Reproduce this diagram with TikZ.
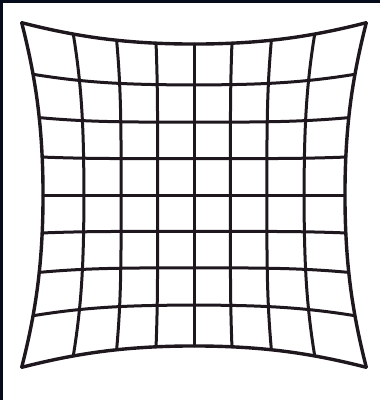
\documentclass[tikz,border=0pt]{standalone}
\usetikzlibrary{calc}
\definecolor{frameblue}{RGB}{5,11,26}
\definecolor{gridink}{RGB}{30,24,30}
\begin{document}
\begin{tikzpicture}[x=1pt,y=-1pt,
  declare function={
    rr(\u,\v)=\u*\u+\v*\v;
    fac(\u,\v)=1-0.022*rr(\u,\v)+0.056*rr(\u,\v)*rr(\u,\v);
    px(\u,\v)=194+146*\u*fac(\u,\v);
    py(\u,\v)=195+146*\v*fac(\u,\v);
  },
  gridline/.style={draw=gridink,line width=3pt,line join=round,line cap=round},
  edgeline/.style={draw=gridink,line width=3.4pt,line join=round,line cap=round}]
\useasboundingbox (0,0) rectangle (380,400);
\fill[white] (0,0) rectangle (380,400);
\fill[frameblue] (0,0) rectangle (380,3);
\fill[frameblue] (0,0) rectangle (3,400);
% vertical lines
\foreach \u in {-0.75,-0.5,-0.25,0,0.25,0.5,0.75}{
  \draw[gridline] plot[domain=-1:1,samples=41,variable=\t] ({px(\u,\t)},{py(\u,\t)});
}
% horizontal lines
\foreach \v in {-0.75,-0.5,-0.25,0,0.25,0.5,0.75}{
  \draw[gridline] plot[domain=-1:1,samples=41,variable=\t] ({px(\t,\v)},{py(\t,\v)});
}
% outer frame
\foreach \u in {-1,1}{
  \draw[edgeline] plot[domain=-1:1,samples=41,variable=\t] ({px(\u,\t)},{py(\u,\t)});
  \draw[edgeline] plot[domain=-1:1,samples=41,variable=\t] ({px(\t,\u)},{py(\t,\u)});
}
\end{tikzpicture}
\end{document}
